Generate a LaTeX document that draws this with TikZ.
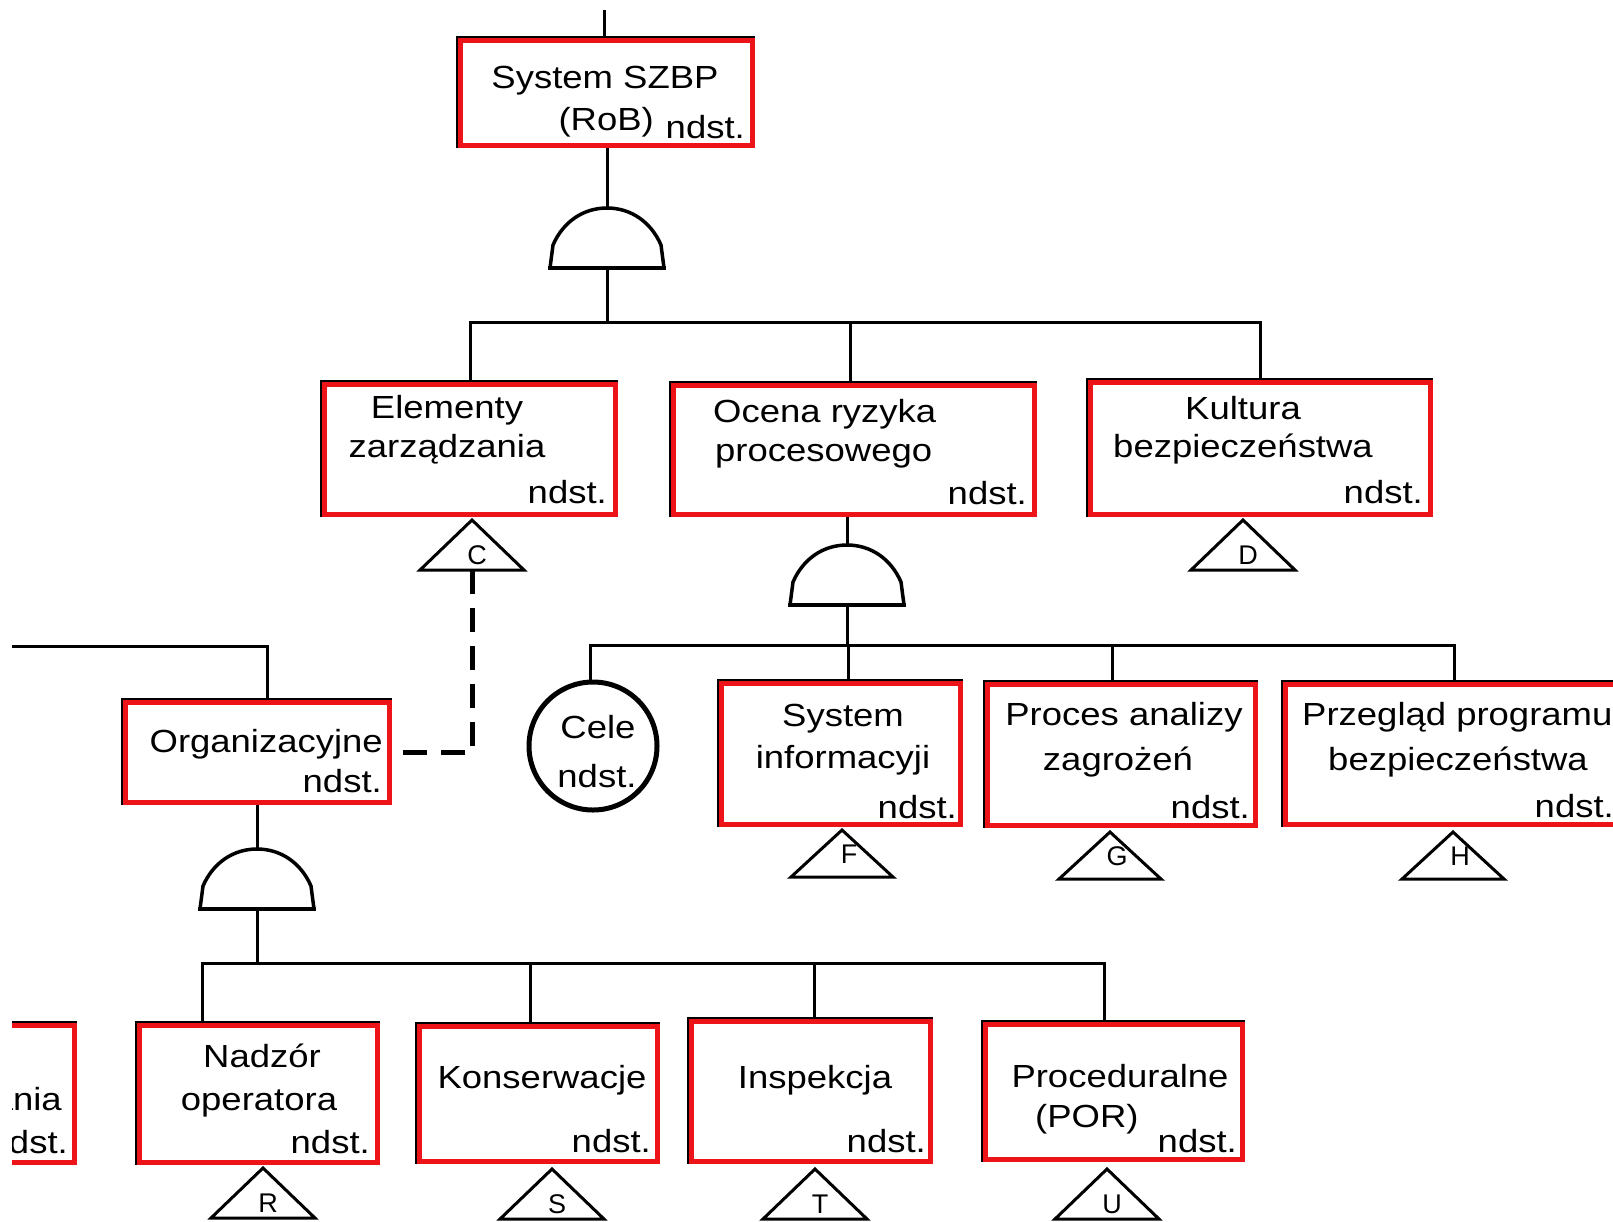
\documentclass[tikz,border=0pt]{standalone}
\usepackage{fontspec}
\setmainfont{Liberation Sans}[FakeStretch=1.14]
\newfontfamily\trifont{Liberation Sans}
\usetikzlibrary{calc,backgrounds}
\definecolor{evred}{RGB}{236,20,24}
\begin{document}
\begin{tikzpicture}[x=1pt,y=-1pt,
  evbox/.style={draw=evred, line width=5, rectangle, inner sep=0},
  evcirc/.style={draw=black, line width=5, circle, inner sep=0},
  conn/.style={line width=3, draw=black},
  gateline/.style={line width=3.5, draw=black, line join=round},
  triline/.style={line width=3, draw=black, line join=miter},
  dashc/.style={line width=5, draw=black, dash pattern=on 24 off 14},
  rim/.style={line width=2, draw=black},
  txt/.style={inner sep=0, anchor=base, font=\fontsize{32}{38}\selectfont},
  txtr/.style={txt, anchor=base east},
  txtl/.style={txt, anchor=base west},
  trilab/.style={inner sep=0, anchor=base, font=\trifont\fontsize{27}{30}\selectfont},
  andgate/.pic={
    \draw[gateline] (-59,60) -- (59,60);
    \draw[gateline] (-57,60) -- (-54,37) .. controls (-44,14) and (-24,0) .. (0,0)
                    .. controls (24,0) and (44,14) .. (54,37) -- (57,60);
    \coordinate (-top) at (0,0);
    \coordinate (-bot) at (0,60);
  },
  xfer/.pic={
    \draw[triline] (0,0) -- (52,50) -- (-52,50) -- cycle;
    \node[trilab] at (5,44) {#1};
    \coordinate (-bot) at (0,50);
  },
  xferhi/.pic={
    \draw[triline] (0,0) -- (51,47) -- (-51,47) -- cycle;
    \node[trilab] at (7,33) {#1};
    \coordinate (-bot) at (0,47);
  },
]
\useasboundingbox (0,0) rectangle (1613,1221);
\clip (12,0) rectangle (1613,1221);

% ---- event boxes ----
\node[evbox, minimum width=292, minimum height=105] (szbp)   at (606.5,93)   {};
\node[evbox, minimum width=291, minimum height=130] (elem)   at (470,449.5)  {};
\node[evbox, minimum width=361, minimum height=129] (ocena)  at (854,450)    {};
\node[evbox, minimum width=340, minimum height=132] (kult)   at (1260.5,448.5) {};
\node[evbox, minimum width=264, minimum height=100] (org)    at (257.5,752.5) {};
\node[evcirc, minimum size=128]                     (cele)   at (593,746)    {};
\node[evbox, minimum width=239, minimum height=141] (sysinf) at (841,754)    {};
\node[evbox, minimum width=268, minimum height=141] (proces) at (1121.5,755) {};
\node[evbox, minimum width=337, minimum height=140] (przeg)  at (1454,754.5) {};
\node[evbox, minimum width=232, minimum height=137] (lpart)  at (-41.5,1094) {};
\node[evbox, minimum width=238, minimum height=137] (nadzor) at (258.5,1094) {};
\node[evbox, minimum width=238, minimum height=135] (kons)   at (538.5,1094) {};
\node[evbox, minimum width=239, minimum height=140] (insp)   at (811,1091.5) {};
\node[evbox, minimum width=257, minimum height=135] (proc)   at (1114,1092)  {};

% ---- box texts ----
\node[txt]  (szbp-a) at (605,88)  {System SZBP};
\node[txtr] (szbp-b) at (654,130) {(RoB)};
\node[txtr] (szbp-n) at (745,138) {ndst.};

\node[txt]  (elem-a) at (447,418) {Elementy};
\node[txt]  (elem-b) at (447,457) {zarządzania};
\node[txtr] (elem-n) at (607,503) {ndst.};

\node[txtl] (ocena-a) at (713,422) {Ocena ryzyka};
\node[txtl] (ocena-b) at (715,461) {procesowego};
\node[txtr] (ocena-n) at (1027,504) {ndst.};

\node[txt]  (kult-a) at (1243,419) {Kultura};
\node[txt]  (kult-b) at (1243,457) {bezpieczeństwa};
\node[txtr] (kult-n) at (1423,503) {ndst.};

\node[txtr] (org-a) at (383,752) {Organizacyjne};
\node[txtr] (org-n) at (382,792) {ndst.};

\node[txt] (cele-a) at (598,738) {Cele};
\node[txt] (cele-n) at (597,787) {ndst.};

\node[txt]  (sysinf-a) at (843,726) {System};
\node[txt]  (sysinf-b) at (843,768) {informacyji};
\node[txtr] (sysinf-n) at (957,818) {ndst.};

\node[txt]  (proces-a) at (1124,725) {Proces analizy};
\node[txt]  (proces-b) at (1118,770) {zagrożeń};
\node[txtr] (proces-n) at (1250,818) {ndst.};

\node[txtl] (przeg-a) at (1302,725) {Przegląd programu};
\node[txt]  (przeg-b) at (1458,770) {bezpieczeństwa};
\node[txtr] (przeg-n) at (1614,817) {ndst.};

\node[txtr] (lpart-a) at (62,1110) {ania};
\node[txtr] (lpart-n) at (68,1153) {ndst.};

\node[txt]  (nadzor-a) at (262,1067) {Nadzór};
\node[txt]  (nadzor-b) at (259,1110) {operatora};
\node[txtr] (nadzor-n) at (370,1153) {ndst.};

\node[txt]  (kons-a) at (542,1088) {Konserwacje};
\node[txtr] (kons-n) at (651,1152) {ndst.};

\node[txt]  (insp-a) at (815,1088) {Inspekcja};
\node[txtr] (insp-n) at (926,1152) {ndst.};

\node[txt]  (proc-a) at (1120,1087) {Proceduralne};
\node[txtl] (proc-b) at (1035,1127) {(POR)};
\node[txtr] (proc-n) at (1237,1152) {ndst.};

% ---- AND gates ----
\pic (g1) at (607,208) {andgate};
\pic (g2) at (847,545) {andgate};
\pic (g3) at (257,849) {andgate};

% ---- transfer triangles ----
\pic (tC) at (472,520)  {xfer=C};
\pic (tD) at (1243,520) {xfer=D};
\pic (tF) at (842,830)  {xferhi=F};
\pic (tG) at (1110,832) {xferhi=G};
\pic (tH) at (1453,832) {xferhi=H};
\pic (tR) at (263,1168) {xfer=R};
\pic (tS) at (552,1169) {xfer=S};
\pic (tT) at (815,1169) {xfer=T};
\pic (tU) at (1107,1169) {xfer=U};

% ---- connectors ----
\coordinate (topend) at (604,10);
\coordinate (bus1) at (607,322);
\coordinate (bus2) at (847,645);
\coordinate (bus3) at (257,963);
\coordinate (offl) at (12,646);

\draw[conn] (topend) -- (topend |- szbp.north);
\draw[conn] (szbp.south -| g1-top) -- (g1-top);
\draw[conn] (g1-bot) -- (bus1);
\draw[conn] (elem.north) |- (bus1);
\draw[conn] (kult.north) |- (bus1);
\draw[conn] ([xshift=-4]ocena.north) -- ([xshift=-4]ocena.north |- bus1);

\draw[conn] (ocena.south -| g2-top) -- (g2-top);
\draw[conn] (g2-bot) -- (bus2);
\draw[conn] ([xshift=-3]cele.north) |- (bus2);
\draw[conn] (przeg.north) |- (bus2);
\draw[conn] ([xshift=7]sysinf.north) -- ([xshift=7]sysinf.north |- bus2);
\draw[conn] ([xshift=-9.5]proces.north) -- ([xshift=-9.5]proces.north |- bus2);

\draw[conn] (offl) -| ([xshift=10]org.north);
\draw[dashc] (tC-bot) |- ([xshift=8]org.east);

\draw[conn] (org.south -| g3-top) -- (g3-top);
\draw[conn] (g3-bot) -- (bus3);
\draw[conn] ([xshift=-56.5]nadzor.north) |- (bus3);
\draw[conn] ([xshift=-10]proc.north) |- (bus3);
\draw[conn] ([xshift=-8.5]kons.north) -- ([xshift=-8.5]kons.north |- bus3);
\draw[conn] ([xshift=3]insp.north) -- ([xshift=3]insp.north |- bus3);

% ---- page and thin black rims behind the red frames ----
\begin{scope}[on background layer]
  \fill[white] (0,0) rectangle (1613,1221);
  \clip (12,0) rectangle (1613,1221);
  \foreach \b in {szbp,elem,ocena,kult,org,sysinf,proces,przeg,lpart,nadzor,kons,insp,proc}
    \draw[rim] ([shift={(-1.5,-1.5)}]\b.south west) rectangle ([shift={(-1.5,-1.5)}]\b.north east);
\end{scope}
\end{tikzpicture}
\end{document}
